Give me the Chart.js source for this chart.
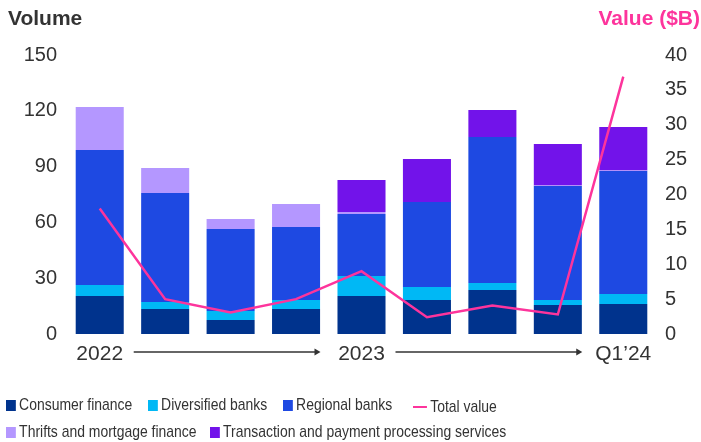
<!DOCTYPE html>
<html>
<head>
<meta charset="utf-8">
<script src="https://cdn.jsdelivr.net/npm/chart.js@4/dist/chart.umd.min.js"></script>
<style>
  body { margin: 0; background: #fff; }
  #wrap { position: relative; width: 701px; height: 442px; }
  .title { position: absolute; top: 6px; font: bold 21px "Liberation Sans", Arial, sans-serif; }
  .legend { position: absolute; font: 17px "Liberation Sans", Arial, sans-serif; color: #333; white-space: nowrap;
            transform: scaleX(0.82); transform-origin: left center; }
  .legend span.sq { display: inline-block; width: 12px; height: 11px; margin-right: 4px; vertical-align: -1px; }
  .legend span.ln { display: inline-block; width: 17px; height: 2.5px; margin-right: 4px; vertical-align: 4px; background: #FD349C; }
</style>
</head>
<body>
<div id="wrap">
  <canvas id="chart" width="701" height="442"></canvas>
  <div class="title" style="left:8px;color:#333;">Volume</div>
  <div class="title" style="right:1px;color:#FD349C;">Value ($B)</div>
  <div class="legend" style="left:6px;top:395px;"><span class="sq" style="background:#00338D"></span>Consumer finance</div>
  <div class="legend" style="left:148px;top:395px;"><span class="sq" style="background:#00B8F5"></span>Diversified banks</div>
  <div class="legend" style="left:283px;top:395px;"><span class="sq" style="background:#1E49E2"></span>Regional banks</div>
  <div class="legend" style="left:413px;top:397px;"><span class="ln"></span>Total value</div>
  <div class="legend" style="left:6px;top:422px;"><span class="sq" style="background:#B497FF"></span>Thrifts and mortgage finance</div>
  <div class="legend" style="left:210px;top:422px;"><span class="sq" style="background:#7213EA"></span>Transaction and payment processing services</div>
</div>
<script>
const quarters = ["2022", "", "", "", "2023", "", "", "", "Q1\u201924"];

const consumerFinance = [20.4, 13.4, 7.5, 13.4, 20.4, 18.3, 23.7, 15.6, 16.1];
const diversifiedBanks = [5.9, 3.8, 4.9, 4.9, 10.8, 7, 3.7, 2.7, 5.4];
const regionalBanks = [72.6, 58.6, 44.1, 39.2, 33.3, 45.7, 78.5, 61.3, 66.1];
const thriftsMortgage = [23.1, 13.4, 5.3, 12.4, 1.1, 0, 0, 0.3, 0.3];
const transactionPayment = [0, 0, 0, 0, 17.2, 23.1, 14.5, 22.3, 23.4];
const totalValue = [18, 5, 3.1, 5, 9, 2.4, 4.1, 2.8, 36.9];

const tickFont = { family: "'Liberation Sans', Arial, sans-serif", size: 20 };

// arrows between the year labels
const arrowPlugin = {
  id: "arrows",
  afterDraw(chart) {
    const ctx = chart.ctx;
    const x = chart.scales.x;
    const y = 352;
    const spans = [[0, 4], [4, 8]];
    ctx.save();
    ctx.strokeStyle = "#333";
    ctx.fillStyle = "#333";
    ctx.lineWidth = 1.3;
    for (const [a, b] of spans) {
      const x0 = x.getPixelForValue(a) + 34;
      const x1 = x.getPixelForValue(b) - 41;
      ctx.beginPath();
      ctx.moveTo(x0, y);
      ctx.lineTo(x1 - 4, y);
      ctx.stroke();
      ctx.beginPath();
      ctx.moveTo(x1, y);
      ctx.lineTo(x1 - 6, y - 3.5);
      ctx.lineTo(x1 - 6, y + 3.5);
      ctx.closePath();
      ctx.fill();
    }
    ctx.restore();
  }
};

function barSet(label, data, color) {
  return {
    type: "bar",
    label: label,
    data: data,
    backgroundColor: color,
    yAxisID: "y",
    stack: "vol",
    barPercentage: 0.734,
    categoryPercentage: 1,
    order: 2
  };
}

new Chart(document.getElementById("chart"), {
  data: {
    labels: quarters,
    datasets: [
      {
        type: "line",
        label: "Total value",
        data: totalValue,
        borderColor: "#FD349C",
        borderWidth: 2.5,
        pointRadius: 0,
        tension: 0,
        yAxisID: "y2",
        order: 0
      },
      barSet("Consumer finance", consumerFinance, "#00338D"),
      barSet("Diversified banks", diversifiedBanks, "#00B8F5"),
      barSet("Regional banks", regionalBanks, "#1E49E2"),
      barSet("Thrifts and mortgage finance", thriftsMortgage, "#B497FF"),
      barSet("Transaction and payment processing services", transactionPayment, "#7213EA")
    ]
  },
  options: {
    responsive: false,
    animation: false,
    layout: { padding: { top: 55, left: 0, right: 0, bottom: 0 } },
    plugins: { legend: { display: false }, tooltip: { enabled: false } },
    scales: {
      x: {
        stacked: true,
        grid: { display: false, drawTicks: false },
        border: { display: false },
        ticks: { color: "#333", font: { family: "'Liberation Sans', Arial, sans-serif", size: 21 }, padding: 8, maxRotation: 0, autoSkip: false },
        afterFit(scale) { scale.height = 108; }
      },
      y: {
        stacked: true,
        position: "left",
        min: 0,
        max: 150,
        grid: { display: false, drawTicks: false },
        border: { display: false },
        ticks: { stepSize: 30, color: "#333", font: tickFont, padding: 10 },
        afterFit(scale) { scale.width = 67; }
      },
      y2: {
        position: "right",
        min: 0,
        max: 40,
        grid: { display: false, drawTicks: false },
        border: { display: false },
        ticks: { stepSize: 5, color: "#333", font: tickFont, padding: 9 },
        afterFit(scale) { scale.width = 45; }
      }
    }
  },
  plugins: [arrowPlugin]
});
</script>
</body>
</html>
